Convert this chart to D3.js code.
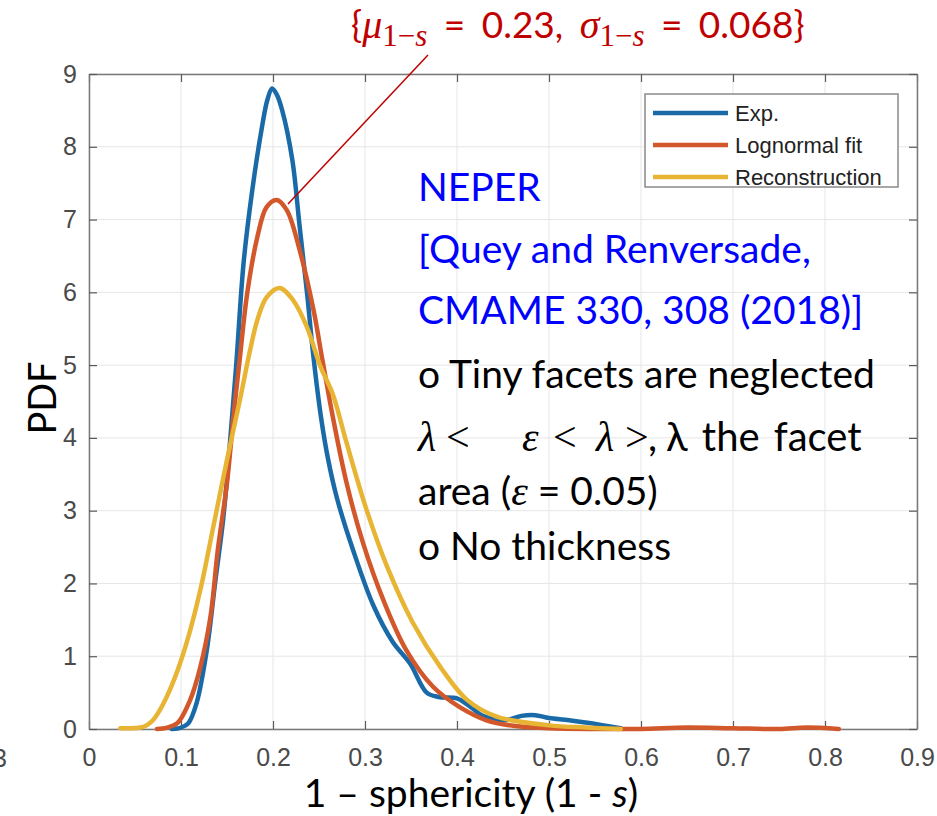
<!DOCTYPE html>
<html>
<head>
<meta charset="utf-8">
<script src="https://cdn.jsdelivr.net/npm/d3@7"></script>
<style>
  body { margin: 0; background: #fff; }
  svg { display: block; }
</style>
</head>
<body>
<div id="chart"></div>
<script>

// values: [1 - s, pdf]
var expData = [
  [0.090, 0], [0.100, 0.02], [0.108, 0.08], [0.117, 0.36], [0.128, 1.08],
  [0.137, 2.0], [0.146, 2.9], [0.153, 3.9], [0.160, 5.0], [0.168, 6.4],
  [0.177, 7.36], [0.188, 8.27], [0.194, 8.65], [0.199, 8.8], [0.204, 8.72],
  [0.210, 8.5], [0.221, 7.82], [0.229, 6.9], [0.237, 5.99], [0.244, 5.11],
  [0.252, 4.3], [0.260, 3.7], [0.270, 3.15], [0.287, 2.46], [0.309, 1.7],
  [0.330, 1.2], [0.349, 0.9], [0.367, 0.5], [0.380, 0.44], [0.400, 0.42],
  [0.415, 0.3], [0.428, 0.18], [0.452, 0.12], [0.470, 0.18], [0.485, 0.19],
  [0.500, 0.15], [0.522, 0.12], [0.555, 0.06], [0.578, 0.01]
]

var lognormalData = [
  [0.074, 0], [0.085, 0.02], [0.096, 0.08], [0.110, 0.4], [0.121, 0.85],
  [0.132, 1.54], [0.140, 2.46], [0.150, 3.38], [0.157, 4.29], [0.164, 5.1],
  [0.172, 5.99], [0.183, 6.76], [0.193, 7.17], [0.204, 7.27], [0.215, 7.13],
  [0.229, 6.58], [0.244, 5.76], [0.254, 5.05], [0.265, 4.29], [0.280, 3.38],
  [0.298, 2.55], [0.320, 1.77], [0.345, 1.08], [0.374, 0.58], [0.403, 0.3],
  [0.432, 0.12], [0.463, 0.04], [0.500, 0.01], [0.550, 0], [0.600, 0],
  [0.650, 0.02], [0.700, 0.01], [0.750, 0], [0.780, 0.02], [0.815, 0]
]

var reconData = [
  [0.034, 0.01], [0.059, 0.03], [0.068, 0.1], [0.077, 0.26], [0.091, 0.63],
  [0.106, 1.18], [0.121, 1.91], [0.135, 2.77], [0.150, 3.7], [0.164, 4.52],
  [0.175, 5.2], [0.183, 5.62], [0.193, 5.93], [0.207, 6.06], [0.222, 5.89],
  [0.237, 5.52], [0.251, 5.0], [0.265, 4.6], [0.280, 3.93], [0.302, 3.0],
  [0.324, 2.23], [0.352, 1.46], [0.382, 0.85], [0.411, 0.4], [0.443, 0.17],
  [0.500, 0.05], [0.540, 0.02], [0.578, 0]
]

var seriesNames = ['Exp.', 'Lognormal fit', 'Reconstruction']
var seriesColors = ['#1a6aa8', '#d2572a', '#e8b434']
var xTicks = [0, 0.1, 0.2, 0.3, 0.4, 0.5, 0.6, 0.7, 0.8, 0.9]
var yTicks = [0, 1, 2, 3, 4, 5, 6, 7, 8, 9]

var svgWidth = 937
var svgHeight = 816
var margin = { top: 74, right: 20, bottom: 87, left: 89 }
var chartWidth = svgWidth - margin.left - margin.right
var chartHeight = svgHeight - margin.top - margin.bottom

var svg = d3.select('#chart')
  .append('svg')
  .attr('width', svgWidth)
  .attr('height', svgHeight)

var chartGroup = svg.append('g')
  .attr('transform', `translate(${margin.left}, ${margin.top})`)

var xScale = d3.scaleLinear().domain([0, 0.9]).range([0, chartWidth])
var yScale = d3.scaleLinear().domain([0, 9]).range([chartHeight, 0])

// grid
chartGroup.append('g')
  .selectAll('line')
  .data(xTicks)
  .enter()
  .append('line')
  .attr('x1', d => xScale(d)).attr('x2', d => xScale(d))
  .attr('y1', 0).attr('y2', chartHeight)
  .attr('stroke', '#e6e6e6')
chartGroup.append('g')
  .selectAll('line')
  .data(yTicks)
  .enter()
  .append('line')
  .attr('y1', d => yScale(d)).attr('y2', d => yScale(d))
  .attr('x1', 0).attr('x2', chartWidth)
  .attr('stroke', '#e6e6e6')

// axes, matlab style: ticks inside, on all four sides
var tickFont = '"Liberation Sans", Arial, sans-serif'
var bottomAxis = chartGroup.append('g')
  .attr('transform', `translate(0, ${chartHeight})`)
  .call(d3.axisBottom(xScale).tickValues(xTicks).tickSizeInner(-8).tickSizeOuter(0).tickPadding(19).tickFormat(d3.format('')))
var topAxis = chartGroup.append('g')
  .call(d3.axisTop(xScale).tickValues(xTicks).tickSizeInner(-8).tickSizeOuter(0).tickFormat(''))
var leftAxis = chartGroup.append('g')
  .call(d3.axisLeft(yScale).tickValues(yTicks).tickSizeInner(-8).tickSizeOuter(0).tickPadding(12))
var rightAxis = chartGroup.append('g')
  .attr('transform', `translate(${chartWidth}, 0)`)
  .call(d3.axisRight(yScale).tickValues(yTicks).tickSizeInner(-8).tickSizeOuter(0).tickFormat(''))

chartGroup.selectAll('.domain').attr('stroke', '#7a7a7a').attr('stroke-width', 1.5)
chartGroup.selectAll('.tick line').attr('stroke', '#5a5a5a').attr('stroke-width', 1.2)
chartGroup.selectAll('.tick text')
  .attr('font-family', tickFont)
  .attr('font-size', 25)
  .attr('fill', '#4a4a4a')

// curves
var line = d3.line()
  .x(d => xScale(d[0]))
  .y(d => yScale(d[1]))
  .curve(d3.curveCatmullRom.alpha(0.5))

var allSeries = [expData, lognormalData, reconData]
chartGroup.append('g')
  .selectAll('path')
  .data(allSeries)
  .enter()
  .append('path')
  .attr('d', d => line(d))
  .attr('fill', 'none')
  .attr('stroke', (d, i) => seriesColors[i])
  .attr('stroke-width', 4.5)
  .attr('stroke-linejoin', 'round')
  .attr('stroke-linecap', 'round')

// legend
var legend = svg.append('g').attr('transform', 'translate(645, 94)')
legend.append('rect')
  .attr('width', 253).attr('height', 93)
  .attr('fill', '#fff')
  .attr('stroke', '#8a8a8a')
  .attr('stroke-width', 1.5)
var legendRows = legend.selectAll('.row')
  .data(seriesNames)
  .enter()
  .append('g')
  .attr('transform', (d, i) => `translate(0, ${19 + i * 32})`)
legendRows.append('line')
  .attr('x1', 8).attr('x2', 83)
  .attr('stroke', (d, i) => seriesColors[i])
  .attr('stroke-width', 4.5)
legendRows.append('text')
  .attr('x', 90).attr('y', 8)
  .attr('font-family', tickFont)
  .attr('font-size', 22)
  .attr('fill', '#222')
  .text(d => d)

// axis titles
var bodyFont = 'Lato, "Open Sans", sans-serif'
var mathFont = '"Liberation Serif", "DejaVu Serif", serif'

svg.append('text')
  .attr('transform', 'translate(56, 398) rotate(-90)')
  .attr('text-anchor', 'middle')
  .attr('font-family', bodyFont)
  .attr('font-size', 38)
  .text('PDF')

var xTitle = svg.append('text')
  .attr('x', 471).attr('y', 807)
  .attr('text-anchor', 'middle')
  .attr('font-family', bodyFont)
  .attr('font-size', 39)
xTitle.append('tspan').text('1 \u2013 sphericity (1 - ')
xTitle.append('tspan').attr('font-style', 'italic').text('s')
xTitle.append('tspan').text(')')

// cut-off label of the neighbouring panel
svg.append('text')
  .attr('x', -7).attr('y', 767)
  .attr('font-family', tickFont)
  .attr('font-size', 25)
  .attr('fill', '#4a4a4a')
  .text('3')

// annotation at the top
var red = '#c00000'
svg.append('line')
  .attr('x1', 288).attr('y1', 204)
  .attr('x2', 428).attr('y2', 55)
  .attr('stroke', red)
  .attr('stroke-width', 1.5)

var ann = svg.append('text')
  .attr('x', 351).attr('y', 38)
  .attr('font-family', bodyFont)
  .attr('font-size', 37)
  .attr('word-spacing', 7)
  .attr('fill', red)
ann.append('tspan').text('{')
ann.append('tspan').attr('font-family', mathFont).attr('font-style', 'italic').attr('font-size', 40).text('\u03bc')
ann.append('tspan').attr('font-family', mathFont).attr('font-size', 31).attr('dy', 8).text('1\u2212')
ann.append('tspan').attr('font-family', mathFont).attr('font-size', 31).attr('font-style', 'italic').text('s')
ann.append('tspan').attr('dy', -8).text(' = 0.23, ')
ann.append('tspan').attr('font-family', mathFont).attr('font-style', 'italic').attr('font-size', 40).text('\u03c3')
ann.append('tspan').attr('font-family', mathFont).attr('font-size', 31).attr('dy', 8).text('1\u2212')
ann.append('tspan').attr('font-family', mathFont).attr('font-size', 31).attr('font-style', 'italic').text('s')
ann.append('tspan').attr('dy', -8).text(' = 0.068}')

// text block on the right
var blockX = 418
var blue = '#0000ff'
var block = svg.append('g')
  .attr('font-family', bodyFont)
  .attr('font-size', 39)

block.append('text').attr('x', blockX).attr('y', 201).attr('fill', blue).text('NEPER')
block.append('text').attr('x', blockX).attr('y', 263).attr('fill', blue).text('[Quey and Renversade,')
block.append('text').attr('x', blockX).attr('y', 324).attr('fill', blue).text('CMAME 330, 308 (2018)]')
block.append('text').attr('x', blockX).attr('y', 388).text('o Tiny facets are neglected')

var lam = block.append('text').attr('x', blockX).attr('y', 451).attr('font-size', 42)
lam.append('tspan').attr('font-family', mathFont).attr('font-style', 'italic').text('\u03bb')
lam.append('tspan').attr('font-family', mathFont).attr('x', 446).text('<')
lam.append('tspan').attr('font-family', mathFont).attr('font-style', 'italic').attr('x', 522).text('\u03b5')
lam.append('tspan').attr('font-family', mathFont).attr('x', 553).text('<')
lam.append('tspan').attr('font-family', mathFont).attr('font-style', 'italic').attr('x', 596).text('\u03bb')
lam.append('tspan').attr('font-family', mathFont).attr('x', 625).text('>')
lam.append('tspan').attr('x', 648).attr('font-size', 40).text(',')
lam.append('tspan').attr('x', 666).attr('font-size', 40).attr('word-spacing', 4).text('\u03bb the facet')

var area = block.append('text').attr('x', blockX).attr('y', 505)
area.append('tspan').text('area (')
area.append('tspan').attr('font-family', mathFont).attr('font-style', 'italic').attr('font-size', 42).text('\u03b5')
area.append('tspan').text(' = 0.05)')

block.append('text').attr('x', blockX).attr('y', 560).text('o No thickness')

</script>
</body>
</html>
